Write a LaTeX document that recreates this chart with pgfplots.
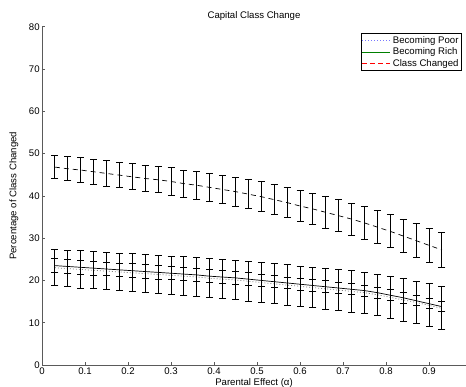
\documentclass[border=0pt]{standalone}
\usepackage{pgfplots}
\pgfplotsset{compat=1.18}
\usepackage{fontspec}
\setmainfont{Liberation Sans}
\definecolor{axgray}{RGB}{90,90,90}
\definecolor{mgreen}{RGB}{0,128,0}
\definecolor{mblue}{RGB}{120,120,255}
\begin{document}
\fontsize{9.6bp}{11bp}\selectfont
\begin{tikzpicture}[x=1bp,y=1bp]
\begin{axis}[
  at={(0,0)}, anchor=origin,
  scale only axis,
  width=424bp, height=338.3bp,
  xmin=0, xmax=0.986, ymin=0, ymax=80,
  axis x line*=bottom, axis y line*=left,
  axis line style={axgray, line width=0.9pt},
  xtick={0,0.1,0.2,0.3,0.4,0.5,0.6,0.7,0.8,0.9},
  ytick={0,10,20,30,40,50,60,70,80},
  xticklabels={0,0.1,0.2,0.3,0.4,0.5,0.6,0.7,0.8,0.9},
  tick align=inside,
  major tick length=3bp,
  tick style={axgray, line width=0.7pt},
  /pgf/number format/assume math mode=true,
  tick label style={font=\fontsize{9.6bp}{11bp}\selectfont},
  xticklabel style={yshift=1bp},
  yticklabel style={xshift=1bp},
  xtick pos=bottom, ytick pos=left,
  xlabel={Parental Effect (α)},
  ylabel={Percentage of Class Changed},
  label style={font=\fontsize{9.6bp}{11bp}\selectfont},
  xlabel style={yshift=2.5bp},
  ylabel style={yshift=4bp},
  title={Capital Class Change},
  title style={font=\fontsize{9.6bp}{11bp}\selectfont, yshift=-3bp},
  legend style={at={(rel axis cs:0.9906,0.981)}, anchor=north east,
    draw=black, line width=1pt, font=\fontsize{9.6bp}{11bp}\selectfont,
    inner sep=1bp, row sep=-1bp},
  legend cell align=left,
  legend image code/.code={\draw[line width=0.9pt, #1] (0bp,0bp) -- (28bp,0bp);},
  error bars/error bar style={black, solid, line width=0.9pt},
  error bars/error mark options={rotate=90, mark size=3.5bp, black, solid, line width=0.9pt},
  clip=false,
]
\addlegendimage{draw=mblue, dash pattern=on 1bp off 2bp}
\addlegendentry{Becoming Poor}
\addlegendimage{draw=mgreen, solid}
\addlegendentry{Becoming Rich}
\addlegendimage{draw=red, dash pattern=on 5bp off 3bp}
\addlegendentry{Class Changed}

% Becoming Poor (dotted)
\addplot[gray, dash pattern=on 1bp off 2bp, line width=0.7pt, forget plot,
  error bars/.cd, y dir=both, y explicit] coordinates {
(0.03,23.0) +- (0,4.3)
(0.06,22.8) +- (0,4.3)
(0.09,22.6) +- (0,4.4)
(0.12,22.4) +- (0,4.4)
(0.15,22.2) +- (0,4.4)
(0.18,22.0) +- (0,4.4)
(0.21,21.8) +- (0,4.5)
(0.24,21.6) +- (0,4.5)
(0.27,21.4) +- (0,4.5)
(0.30,21.2) +- (0,4.5)
(0.33,21.0) +- (0,4.6)
(0.36,20.8) +- (0,4.6)
(0.39,20.5) +- (0,4.6)
(0.42,20.3) +- (0,4.6)
(0.45,20.1) +- (0,4.7)
(0.48,19.8) +- (0,4.7)
(0.51,19.5) +- (0,4.7)
(0.54,19.2) +- (0,4.7)
(0.57,18.9) +- (0,4.8)
(0.60,18.6) +- (0,4.8)
(0.63,18.3) +- (0,4.8)
(0.66,18.0) +- (0,4.8)
(0.69,17.7) +- (0,4.9)
(0.72,17.4) +- (0,4.9)
(0.75,17.1) +- (0,4.9)
(0.78,16.6) +- (0,4.9)
(0.81,16.0) +- (0,5.0)
(0.84,15.4) +- (0,5.0)
(0.87,14.8) +- (0,5.0)
(0.90,14.1) +- (0,5.1)
(0.93,13.4) +- (0,5.1)
};

% Becoming Rich (solid)
\addplot[black, solid, line width=0.7pt, forget plot,
  error bars/.cd, y dir=both, y explicit] coordinates {
(0.03,23.5) +- (0,1.7)
(0.06,23.3) +- (0,1.7)
(0.09,23.1) +- (0,1.7)
(0.12,22.9) +- (0,1.7)
(0.15,22.7) +- (0,1.6)
(0.18,22.5) +- (0,1.6)
(0.21,22.3) +- (0,1.6)
(0.24,22.1) +- (0,1.6)
(0.27,21.9) +- (0,1.6)
(0.30,21.7) +- (0,1.5)
(0.33,21.5) +- (0,1.5)
(0.36,21.3) +- (0,1.5)
(0.39,21.0) +- (0,1.5)
(0.42,20.8) +- (0,1.5)
(0.45,20.6) +- (0,1.5)
(0.48,20.3) +- (0,1.5)
(0.51,20.0) +- (0,1.4)
(0.54,19.7) +- (0,1.4)
(0.57,19.4) +- (0,1.4)
(0.60,19.1) +- (0,1.4)
(0.63,18.8) +- (0,1.4)
(0.66,18.5) +- (0,1.4)
(0.69,18.2) +- (0,1.3)
(0.72,17.9) +- (0,1.3)
(0.75,17.6) +- (0,1.3)
(0.78,17.1) +- (0,1.3)
(0.81,16.5) +- (0,1.3)
(0.84,15.9) +- (0,1.3)
(0.87,15.2) +- (0,1.2)
(0.90,14.5) +- (0,1.2)
(0.93,13.8) +- (0,1.2)
};

% Class Changed (dashed)
\addplot[black, dash pattern=on 5bp off 4bp, line width=0.7pt, forget plot,
  error bars/.cd, y dir=both, y explicit] coordinates {
(0.03,46.8) +- (0,2.8)
(0.06,46.4) +- (0,2.8)
(0.09,46.1) +- (0,2.9)
(0.12,45.7) +- (0,2.9)
(0.15,45.3) +- (0,3.0)
(0.18,44.9) +- (0,3.0)
(0.21,44.5) +- (0,3.1)
(0.24,44.1) +- (0,3.1)
(0.27,43.8) +- (0,3.1)
(0.30,43.4) +- (0,3.2)
(0.33,42.9) +- (0,3.2)
(0.36,42.5) +- (0,3.3)
(0.39,42.0) +- (0,3.3)
(0.42,41.5) +- (0,3.4)
(0.45,41.0) +- (0,3.4)
(0.48,40.4) +- (0,3.4)
(0.51,39.8) +- (0,3.5)
(0.54,39.1) +- (0,3.5)
(0.57,38.4) +- (0,3.6)
(0.60,37.6) +- (0,3.6)
(0.63,36.9) +- (0,3.7)
(0.66,36.1) +- (0,3.7)
(0.69,35.3) +- (0,3.8)
(0.72,34.5) +- (0,3.8)
(0.75,33.6) +- (0,3.8)
(0.78,32.6) +- (0,3.9)
(0.81,31.6) +- (0,3.9)
(0.84,30.5) +- (0,4.0)
(0.87,29.4) +- (0,4.0)
(0.90,28.3) +- (0,4.1)
(0.93,27.2) +- (0,4.1)
};
\end{axis}
\pgfresetboundingbox
\path[use as bounding box] (-42bp,-22bp) rectangle (424bp,365bp);
\end{tikzpicture}
\end{document}
